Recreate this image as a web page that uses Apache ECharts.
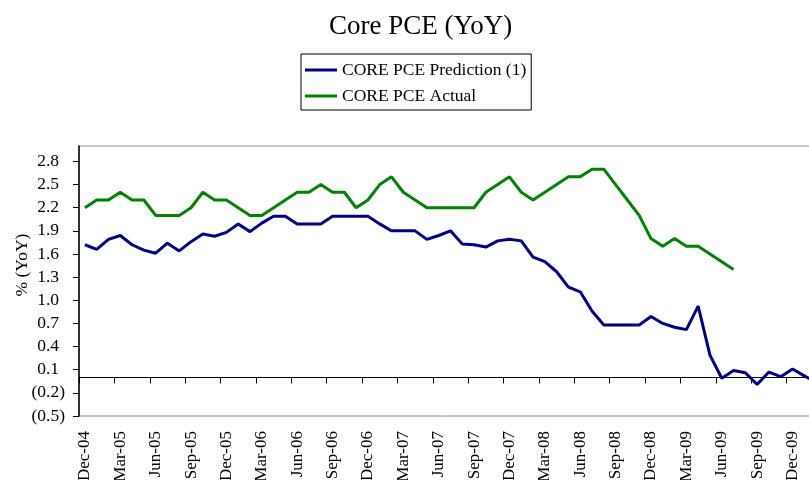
<!DOCTYPE html>
<html>
<head>
<meta charset="utf-8">
<script src="https://cdn.jsdelivr.net/npm/echarts@6/dist/echarts.min.js"></script>
<style>
  html, body { margin: 0; padding: 0; background: #fff; }
  #chart { width: 809px; height: 480px; }
</style>
</head>
<body>
<div id="chart"></div>
<script>
const months = [
  'Dec-04', 'Jan-05', 'Feb-05', 'Mar-05', 'Apr-05', 'May-05', 'Jun-05', 'Jul-05', 'Aug-05', 'Sep-05', 'Oct-05', 'Nov-05',
  'Dec-05', 'Jan-06', 'Feb-06', 'Mar-06', 'Apr-06', 'May-06', 'Jun-06', 'Jul-06', 'Aug-06', 'Sep-06', 'Oct-06', 'Nov-06',
  'Dec-06', 'Jan-07', 'Feb-07', 'Mar-07', 'Apr-07', 'May-07', 'Jun-07', 'Jul-07', 'Aug-07', 'Sep-07', 'Oct-07', 'Nov-07',
  'Dec-07', 'Jan-08', 'Feb-08', 'Mar-08', 'Apr-08', 'May-08', 'Jun-08', 'Jul-08', 'Aug-08', 'Sep-08', 'Oct-08', 'Nov-08',
  'Dec-08', 'Jan-09', 'Feb-09', 'Mar-09', 'Apr-09', 'May-09', 'Jun-09', 'Jul-09', 'Aug-09', 'Sep-09', 'Oct-09', 'Nov-09',
  'Dec-09', 'Jan-10', 'Feb-10'
]

const prediction = [
  1.72, 1.66, 1.79, 1.84, 1.72, 1.65, 1.61, 1.74, 1.64, 1.76, 1.86, 1.83,
  1.88, 1.99, 1.89, 2.00, 2.09, 2.09, 1.99, 1.99, 1.99, 2.09, 2.09, 2.09,
  2.09, 1.99, 1.90, 1.90, 1.90, 1.79, 1.84, 1.90, 1.73, 1.72, 1.69, 1.77,
  1.79, 1.77, 1.56, 1.50, 1.37, 1.17, 1.11, 0.86, 0.68, 0.68, 0.68, 0.68,
  0.79, 0.70, 0.65, 0.62, 0.925, 0.29, -0.01, 0.09, 0.06, -0.09, 0.07, 0.01,
  0.11, 0.02, -0.06
]

const actual = [
  2.2, 2.3, 2.3, 2.4, 2.3, 2.3, 2.1, 2.1, 2.1, 2.2, 2.4, 2.3,
  2.3, 2.2, 2.1, 2.1, 2.2, 2.3, 2.4, 2.4, 2.5, 2.4, 2.4, 2.2,
  2.3, 2.5, 2.6, 2.4, 2.3, 2.2, 2.2, 2.2, 2.2, 2.2, 2.4, 2.5,
  2.6, 2.4, 2.3, 2.4, 2.5, 2.6, 2.6, 2.7, 2.7, 2.5, 2.3, 2.1,
  1.8, 1.7, 1.8, 1.7, 1.7, 1.6, 1.5, 1.4
]

const yTicks = [-0.5, -0.2, 0.1, 0.4, 0.7, 1.0, 1.3, 1.6, 1.9, 2.2, 2.5, 2.8]

const serif = 'Liberation Serif, Times New Roman, serif'
const chart = echarts.init(document.getElementById('chart'))

chart.setOption({
  animation: false,
  title: {
    text: 'Core PCE (YoY)',
    left: 324, top: 8,
    textStyle: { fontFamily: serif, fontSize: 27, fontWeight: 'normal', color: '#000' }
  },
  legend: {
    orient: 'vertical',
    left: 301, top: 54,
    padding: [7, 5, 5, 4],
    itemGap: 8,
    itemWidth: 32, itemHeight: 3,
    icon: 'rect',
    borderColor: '#000', borderWidth: 1,
    backgroundColor: '#fff',
    textStyle: { fontFamily: serif, fontSize: 17.5, lineHeight: 18, color: '#000' },
    data: ['CORE PCE Prediction (1)', 'CORE PCE Actual']
  },
  grid: {
    left: 79, top: 146, right: -13, bottom: 64,
    containLabel: false, outerBoundsMode: 'none',
    show: true, borderColor: '#8c8c8c', borderWidth: 1, backgroundColor: 'transparent'
  },
  xAxis: [
    {
      type: 'category', data: months, boundaryGap: true, position: 'bottom',
      axisLine: { show: false, onZero: false },
      axisTick: { show: false },
      axisLabel: { interval: 2, rotate: 90, margin: 15, fontFamily: serif, fontSize: 17, color: '#000' },
      splitLine: { show: false }
    },
    {
      type: 'category', data: months, boundaryGap: true, position: 'bottom',
      axisLine: { show: true, onZero: true, lineStyle: { color: '#000', width: 1.2 } },
      axisTick: { show: true, interval: 2, length: 6, lineStyle: { color: '#000' } },
      axisLabel: { show: false },
      splitLine: { show: false }
    }
  ],
  yAxis: {
    type: 'value', min: -0.5, max: 3.0,
    name: '% (YoY)', nameLocation: 'middle', nameGap: 48, nameMoveOverlap: false,
    nameTextStyle: { fontFamily: serif, fontSize: 17.5, color: '#000', padding: [0, 0, 0, 32] },
    axisLine: { show: true, lineStyle: { color: '#000', width: 1.5 } },
    axisTick: { show: true, length: 6, customValues: yTicks, lineStyle: { color: '#000' } },
    axisLabel: {
      customValues: yTicks, margin: 14,
      fontFamily: serif, fontSize: 17.5, color: '#000',
      formatter: (v) => v < 0 ? '(' + Math.abs(v).toFixed(1) + ')' : '{p|' + v.toFixed(1) + '}',
      rich: { p: { fontFamily: serif, fontSize: 17.5, color: '#000', padding: [0, 6, 0, 0] } }
    },
    splitLine: { show: false }
  },
  series: [
    {
      name: 'CORE PCE Prediction (1)', type: 'line', data: prediction,
      xAxisIndex: 0, symbol: 'none', color: '#000080',
      lineStyle: { width: 3, color: '#000080' }
    },
    {
      name: 'CORE PCE Actual', type: 'line', data: actual,
      xAxisIndex: 0, symbol: 'none', color: '#008000',
      lineStyle: { width: 3, color: '#008000' }
    }
  ]
})
</script>
</body>
</html>
